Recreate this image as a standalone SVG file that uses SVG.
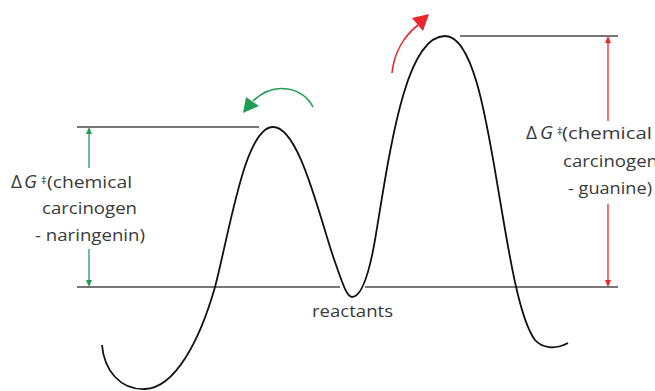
<svg xmlns="http://www.w3.org/2000/svg" width="655" height="391" viewBox="0 0 655 391">
<style>
.lvl{stroke:#4a4a4a;stroke-width:1.3;fill:none}
.curve{stroke:#111;stroke-width:1.8;fill:none}
.g{stroke:#1f9d55;fill:none}
.gf{fill:#1f9d55}
.r{stroke:#e8262b;fill:none}
.rf{fill:#e8262b}
.t{font-family:"Open Sans","Noto Sans",sans-serif;font-size:17px;fill:#3a3a3a}
.sym{font-size:19px}
.it{font-style:italic}
.dag{font-size:11px}
</style>
<rect width="655" height="391" fill="#fff"/>
<g id="connectors">
<g id="levels">
<line class="lvl" x1="77" y1="127" x2="259" y2="127"/>
<line class="lvl" x1="460" y1="36" x2="618" y2="36"/>
<line class="lvl" x1="77" y1="287" x2="340" y2="287"/>
<line class="lvl" x1="365" y1="287" x2="618" y2="287"/>
</g>
<path id="energy-curve" class="curve" d="M102,345 C104,370 120,390 145,389 C175,388 200,340 215,287 C230,230 245,127 273,127 C300,127 320,220 335,262 C343,285 347,297 352,297 C360,297 368,280 375,240 C390,150 405,36 445,36 C475,36 488,130 500,200 C510,260 520,320 535,340 C542,348 555,350 568,343"/>
<g id="green-dim">
<line class="g" stroke-width="1.3" x1="89" y1="132" x2="89" y2="168"/>
<line class="g" stroke-width="1.3" x1="89" y1="249" x2="89" y2="282"/>
<polygon class="gf" points="89,127 86,134 92,134"/>
<polygon class="gf" points="89,287 86,280 92,280"/>
</g>
<g id="red-dim">
<line class="r" stroke-width="1.3" x1="608" y1="41" x2="608" y2="121"/>
<line class="r" stroke-width="1.3" x1="608" y1="204" x2="608" y2="281"/>
<polygon class="rf" points="608,36 605,43 611,43"/>
<polygon class="rf" points="608,287 605,280 611,280"/>
</g>
<g id="green-arc">
<path class="g" stroke-width="1.6" d="M313,107 C303,88 275,80 253,101"/>
<polygon class="gf" points="243,113 246,97 259,106"/>
</g>
<g id="red-arc">
<path class="r" stroke-width="1.6" d="M392,73 C394,53 404,36 418,25"/>
<polygon class="rf" points="429,14 412,18 423,31"/>
</g>
</g>
<g id="label-naringenin" class="t">
<text x="11" y="188" class="sym">Δ</text>
<text x="24" y="188" class="sym it">G</text>
<text x="41" y="184" class="dag">‡</text>
<text x="47" y="188" textLength="85" lengthAdjust="spacingAndGlyphs">(chemical</text>
<text x="42" y="214" textLength="95" lengthAdjust="spacingAndGlyphs">carcinogen</text>
<text x="35" y="241" textLength="110" lengthAdjust="spacingAndGlyphs">- naringenin)</text>
</g>
<g id="label-guanine" class="t">
<text x="526" y="139" class="sym">Δ</text>
<text x="540" y="139" class="sym it">G</text>
<text x="557" y="135" class="dag">‡</text>
<text x="562" y="139" textLength="90" lengthAdjust="spacingAndGlyphs">(chemical</text>
<text x="563" y="167" textLength="95" lengthAdjust="spacingAndGlyphs">carcinogen</text>
<text x="568" y="194" textLength="84" lengthAdjust="spacingAndGlyphs">- guanine)</text>
</g>
<g id="label-reactants" class="t">
<text x="312" y="317" textLength="81" lengthAdjust="spacingAndGlyphs">reactants</text>
</g>
</svg>
